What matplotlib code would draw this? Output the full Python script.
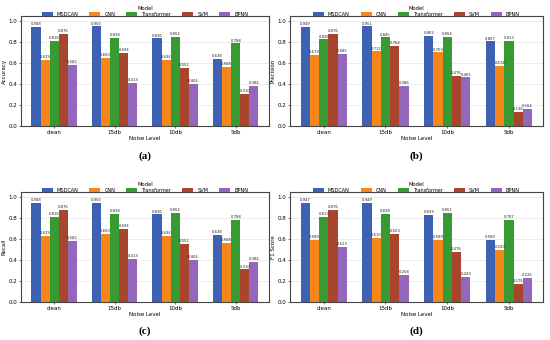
import matplotlib.pyplot as plt
import numpy as np

# Datos
noise_levels = ["clean", "15db", "10db", "5db"]
models = ["MSDCAN", "CNN", "Transformer", "SVM", "BPNN"]

accuracy = {
    "MSDCAN": [0.948, 0.950, 0.836, 0.638],
    "CNN": [0.629, 0.650, 0.634, 0.568],
    "Transformer": [0.816, 0.838, 0.852, 0.788],
    "SVM": [0.876, 0.694, 0.552, 0.310],
    "BPNN": [0.582, 0.413, 0.404, 0.384],
}
precision = {
    "MSDCAN": [0.949, 0.951, 0.862, 0.807],
    "CNN": [0.679, 0.712, 0.703, 0.574],
    "Transformer": [0.826, 0.845, 0.854, 0.813],
    "SVM": [0.876, 0.764, 0.476, 0.136],
    "BPNN": [0.685, 0.386, 0.465, 0.164],
}
recall = {
    "MSDCAN": [0.948, 0.950, 0.836, 0.638],
    "CNN": [0.629, 0.650, 0.634, 0.568],
    "Transformer": [0.816, 0.838, 0.852, 0.788],
    "SVM": [0.876, 0.694, 0.552, 0.310],
    "BPNN": [0.582, 0.413, 0.404, 0.384],
}
f1 = {
    "MSDCAN": [0.947, 0.949, 0.833, 0.589],
    "CNN": [0.589, 0.610, 0.589, 0.500],
    "Transformer": [0.813, 0.838, 0.851, 0.787],
    "SVM": [0.876, 0.653, 0.476, 0.175],
    "BPNN": [0.523, 0.258, 0.243, 0.226],
}

colors = ["#3d62b3", "#f5861a", "#379a33", "#a8452c", "#9467bd"]

# (datos, etiqueta y, letra, [left, bottom, width, height])
panels = [
    (accuracy, "Accuracy", "(a)", [0.038, 0.629, 0.451, 0.324]),
    (precision, "Precision", "(b)", [0.527, 0.629, 0.460, 0.324]),
    (recall, "Recall", "(c)", [0.038, 0.112, 0.451, 0.323]),
    (f1, "F1 Score", "(d)", [0.527, 0.112, 0.460, 0.323]),
]

fig = plt.figure(figsize=(5.5, 3.4), dpi=100)
x = np.arange(len(noise_levels))
width = 0.15

for data, ylabel, tag, pos in panels:
    ax = fig.add_axes(pos)
    for i, m in enumerate(models):
        xs = x + (i - 2) * width
        bars = ax.bar(xs, data[m], width, color=colors[i], label=m)
        for b, v in zip(bars, data[m]):
            ax.text(b.get_x() + b.get_width() / 2, v + 0.008, f"{v:.3f}",
                    ha="center", va="bottom", fontsize=2.7, color="#222222")
    ax.set_ylim(0, 1.05)
    ax.set_xlim(-0.55, 3.55)
    ax.set_xticks(x)
    ax.set_xticklabels(noise_levels)
    ticks = np.arange(0, 1.01, 0.2)
    ax.set_yticks(ticks)
    ax.set_yticklabels([f"{t:.1f}" for t in ticks])
    ax.tick_params(labelsize=4, length=1.5, width=0.4, pad=1.2)
    ax.set_ylabel(ylabel, fontsize=4, labelpad=1.2)
    ax.set_xlabel("Noise Level", fontsize=4, labelpad=1)
    ax.grid(axis="y", color="#dddddd", linewidth=0.4)
    ax.set_axisbelow(True)
    for s in ax.spines.values():
        s.set_linewidth(0.8)
        s.set_color("#444444")
    ax.legend(title="Model", ncol=5, loc="lower center",
              bbox_to_anchor=(0.5, 0.985), frameon=False,
              fontsize=3.6, title_fontsize=3.8,
              handlelength=2.2, handleheight=0.7, columnspacing=2.2,
              borderaxespad=0.1, borderpad=0.1, labelspacing=0.2)
    ax.text(0.5, -0.27, tag, transform=ax.transAxes, ha="center", va="center",
            fontsize=8, fontweight="bold", family="Liberation Serif")

fig.savefig("out.png", dpi=100)
